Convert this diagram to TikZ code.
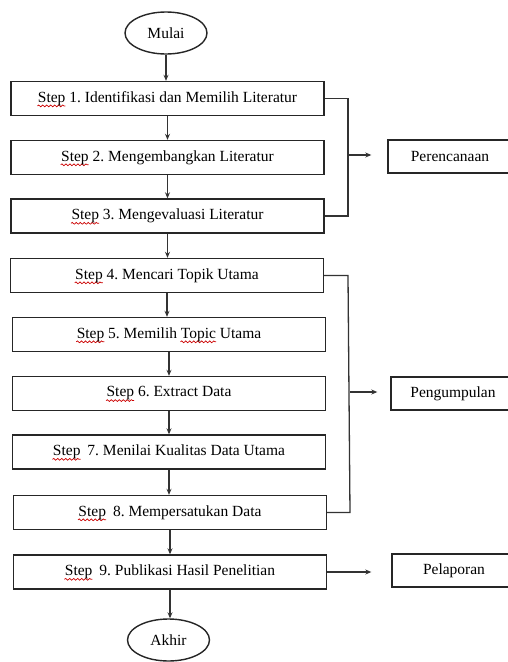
\documentclass[tikz,border=0pt]{standalone}
\usepackage{fontspec}
\setmainfont{Liberation Serif}
\usetikzlibrary{shapes.geometric,arrows.meta,decorations.pathmorphing}
\frenchspacing
\newlength\sqw
\newcommand\redsq[1]{\settowidth\sqw{#1}\rlap{\tikz[overlay,x=1cm,y=1cm]\draw[draw=red!80!black,line width=0.7pt,decorate,decoration={snake,amplitude=0.9pt,segment length=4pt}] (-0.5pt,-3.6pt) -- (\sqw,-3.6pt);}#1}
\tikzset{
  stepbox/.style={draw=black!85,line width=1.4pt,minimum width=313pt,minimum height=34pt,inner sep=0pt,font=\fontsize{15.5}{18}\selectfont},
  sidebox/.style={draw=black!85,line width=1.4pt,minimum width=124pt,minimum height=33pt,inner sep=0pt,font=\fontsize{15.5}{18}\selectfont},
  term/.style={ellipse,draw=black!85,line width=1.4pt,minimum width=82pt,minimum height=42pt,inner sep=0pt,font=\fontsize{15.5}{18}\selectfont},
  arr/.style={draw=black!80,line width=1.3pt,-{Stealth[length=6pt,width=5pt]}},
  link/.style={draw=black!80,line width=1.3pt}
}
\begin{document}
\begin{tikzpicture}[x=1pt,y=-1pt]
\clip (0,0) rectangle (508,662);
\fill[white] (0,0) rectangle (508,662);
\node[term] (mulai) at (166,33) {Mulai};
\node[stepbox] (s1) at (167.5,98.5) {\redsq{Step} 1. Identifikasi dan Memilih Literatur};
\node[stepbox] (s2) at (167.5,157.5) {\redsq{Step} 2. Mengembangkan Literatur};
\node[stepbox] (s3) at (167.5,216) {\redsq{Step} 3. Mengevaluasi Literatur};
\node[stepbox] (s4) at (167,275.5) {\redsq{Step} 4. Mencari Topik Utama};
\node[stepbox] (s5) at (169,334.5) {\redsq{Step} 5. Memilih \redsq{Topic} Utama};
\node[stepbox] (s6) at (169,393.5) {\redsq{Step} 6. Extract Data};
\node[stepbox] (s7) at (169,452) {\redsq{Step}\hspace{0.2em} 7. Menilai Kualitas Data Utama};
\node[stepbox] (s8) at (170,512.5) {\redsq{Step}\hspace{0.2em} 8. Mempersatukan Data};
\node[stepbox] (s9) at (170,572) {\redsq{Step}\hspace{0.2em} 9. Publikasi Hasil Penelitian};
\node[term] (akhir) at (168.5,640) {Akhir};

\node[sidebox] (per) at (450,156.5) {Perencanaan};
\node[sidebox] (pen) at (453,393.5) {Pengumpulan};
\node[sidebox] (pel) at (454,570.5) {Pelaporan};

\draw[arr] (mulai.south) -- (mulai.south |- s1.north);
\draw[arr] (s1.south) -- (s1.south |- s2.north);
\draw[arr] (s2.south) -- (s2.south |- s3.north);
\draw[arr] (s3.south) -- (s3.south |- s4.north);
\draw[arr] (s4.south) -- (s4.south |- s5.north);
\draw[arr] (s5.south) -- (s5.south |- s6.north);
\draw[arr] (s6.south) -- (s6.south |- s7.north);
\draw[arr] (s7.south) -- (s7.south |- s8.north);
\draw[arr] (s8.south) -- (s8.south |- s9.north);
\draw[arr] (s9.south) -- (s9.south |- akhir.north);

\coordinate (b1) at (348,98.5);
\coordinate (b2) at (348,216);
\coordinate (j1) at (348,155);
\draw[link] (s1.east) -- (b1) -- (b2) -- (s3.east);
\draw[arr,shorten >=16pt] (j1) -- (j1 -| per.west);

\coordinate (c1) at (348,275.5);
\coordinate (c2) at (350,512.5);
\coordinate (j2) at (350,392);
\draw[link] (s4.east) -- (c1) -- (c2) -- (s8.east);
\draw[arr,shorten >=13pt] (j2) -- (j2 -| pen.west);

\draw[arr,shorten >=20pt] (s9.east) -- (s9.east -| pel.west);
\end{tikzpicture}
\end{document}
